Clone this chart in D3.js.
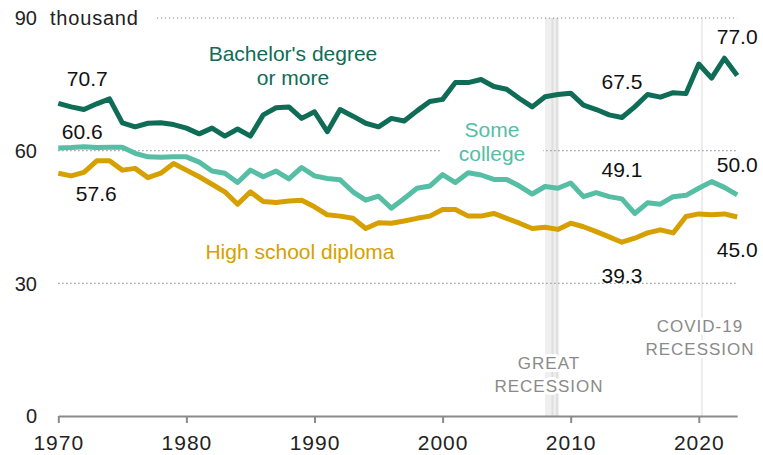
<!DOCTYPE html>
<html><head><meta charset="utf-8">
<script src="https://cdn.jsdelivr.net/npm/d3@7"></script>
<style>html,body{margin:0;padding:0;background:#fff;}svg{display:block;}</style>
</head><body>
<svg id="chart" width="763" height="455"></svg>
<script>
const years = d3.range(1970, 2024);
const bachelors = [70.7,69.9,69.3,70.6,71.7,66.3,65.4,66.2,66.3,65.9,65.1,63.8,65.1,63.3,64.9,63.3,68.1,69.7,69.9,67.3,68.8,64.3,69.3,67.8,66.2,65.4,67.3,66.7,69.0,71.1,71.6,75.4,75.4,76.1,74.5,73.9,71.8,69.9,72.2,72.7,73.0,70.3,69.3,68.1,67.5,69.9,72.7,72.1,73.1,72.9,79.6,76.4,80.9,77.0];
const someCollege = [60.6,60.7,60.9,60.7,60.8,60.8,59.4,58.6,58.5,58.6,58.6,57.4,55.4,54.9,52.8,55.6,54.1,55.4,53.6,56.2,54.3,53.7,53.4,50.7,48.8,49.7,47.0,49.2,51.5,52.0,54.6,52.8,55.0,54.5,53.5,53.5,52.0,50.2,51.9,51.5,52.7,49.6,50.5,49.6,49.1,45.8,48.2,47.9,49.6,49.9,51.5,53.0,51.7,50.0];
const highSchool = [54.9,54.3,55.1,57.7,57.7,55.6,56.0,53.9,54.9,57.1,55.6,54.1,52.4,50.7,47.9,50.7,48.5,48.3,48.6,48.8,47.3,45.5,45.2,44.7,42.4,43.7,43.6,44.1,44.7,45.2,46.7,46.7,45.2,45.2,45.8,44.7,43.6,42.4,42.7,42.2,43.6,42.8,41.7,40.5,39.3,40.2,41.4,42.1,41.4,45.1,45.7,45.5,45.7,45.0];
const yTicks = [0, 30, 60, 90];
const xTicks = [1970, 1980, 1990, 2000, 2010, 2020];
const seriesNames = ["Bachelor's degree|or more", "Some|college", "High school diploma"];
const valueLabels = [
  {s:0, year:1970, text:"70.7"}, {s:1, year:1970, text:"60.6"}, {s:2, year:1970, text:"57.6"},
  {s:0, year:2014, text:"67.5"}, {s:1, year:2014, text:"49.1"}, {s:2, year:2014, text:"39.3"},
  {s:0, year:2023, text:"77.0"}, {s:1, year:2023, text:"50.0"}, {s:2, year:2023, text:"45.0"}
];
const recessions = [{from:2008.0, to:2009.1, label:["GREAT","RECESSION"]}, {from:2020.17, to:2020.33, label:["COVID-19","RECESSION"]}];

const colors = ["#0f6c56", "#55bea4", "#d6a000"];
const series = [bachelors, someCollege, highSchool];

const svg = d3.select("#chart");
const x = d3.scaleLinear().domain([1970, 2023]).range([58.3, 737.2]);
const y = d3.scaleLinear().domain([0, 90]).range([416, 18]);
const font = "'Liberation Sans', Arial, sans-serif";

// recession bands
const rg = svg.append("g");
recessions.forEach((r, i) => {
  rg.append("rect").attr("x", x(r.from)).attr("width", x(r.to) - x(r.from))
    .attr("y", y(90)).attr("height", y(0) - y(90)).attr("fill", i === 0 ? "#efefef" : "#ededed");
  if (i === 0) {
    [0.45, 0.77].forEach(f => {
      rg.append("rect").attr("x", x(r.from + (r.to - r.from) * f)).attr("width", 2)
        .attr("y", y(90)).attr("height", y(0) - y(90)).attr("fill", "#dfdfdf");
    });
  }
});

// gridlines
svg.append("g").selectAll("line").data(yTicks.filter(d => d > 0)).join("line")
  .attr("x1", d => d === 90 ? 157 : x(1970)).attr("x2", x(2023))
  .attr("y1", d => y(d)).attr("y2", d => y(d))
  .attr("stroke", "#8a8a8a").attr("stroke-width", 1.2).attr("stroke-dasharray", "1.2,2.8");

// white backing for "Some college" label
svg.append("rect").attr("x", 440).attr("y", 118).attr("width", 103).attr("height", 48).attr("fill", "#fff");

// y tick labels
svg.append("g").selectAll("text").data(yTicks).join("text")
  .attr("x", 37).attr("y", d => y(d)).attr("dy", "0.36em").attr("text-anchor", "end")
  .attr("font-family", font).attr("font-size", 20).attr("fill", "#222").text(d => d);
svg.append("text").attr("x", 50).attr("y", y(90)).attr("dy", "0.36em")
  .attr("font-family", font).attr("font-size", 20).attr("letter-spacing", "0.8px").attr("fill", "#222").text("thousand");

// recession labels
recessions.forEach((r, i) => {
  const cx = i === 0 ? 549 : 700;
  const y0 = i === 0 ? 369 : 332;
  r.label.forEach((t, j) => {
    svg.append("text").attr("x", cx).attr("y", y0 + j * 23).attr("text-anchor", "middle")
      .attr("font-family", font).attr("font-size", 17).attr("letter-spacing", "1px")
      .attr("fill", "#8a8a8a").attr("stroke", "#fff").attr("stroke-width", 6)
      .attr("paint-order", "stroke").attr("stroke-linejoin", "round").text(t);
  });
});

// x axis
const axis = svg.append("g").attr("transform", `translate(0,${y(0)})`)
  .call(d3.axisBottom(x).tickValues(xTicks).tickFormat(d3.format("d")).tickSize(7).tickSizeOuter(0).tickPadding(12));
axis.select(".domain").attr("stroke", "#8a8a8a").attr("stroke-width", 2);
axis.selectAll(".tick line").attr("stroke", "#8a8a8a").attr("stroke-width", 2);
axis.selectAll(".tick text").attr("font-family", font).attr("font-size", 21).attr("letter-spacing", "1px").attr("fill", "#222");

// lines
const line = d3.line().x((d, i) => x(years[i])).y(d => y(d));
svg.append("g").selectAll("path").data(series).join("path")
  .attr("d", d => line(d)).attr("fill", "none")
  .attr("stroke", (d, i) => colors[i]).attr("stroke-width", 5)
  .attr("stroke-linejoin", "round").attr("stroke-linecap", "butt");

// series labels
const seriesPos = [{cx:293, by:61}, {cx:492, by:137}, {cx:300, by:259}];
seriesNames.forEach((n, i) => {
  n.split("|").forEach((t, j) => {
    svg.append("text").attr("x", seriesPos[i].cx).attr("y", seriesPos[i].by + j * 24)
      .attr("text-anchor", "middle").attr("font-family", font).attr("font-size", 21)
      .attr("fill", colors[i]).text(t);
  });
});

// value labels
const labelOffset = {"1970":[-25, -17, 20], "2014":[-36, -29, 33], "2023":[-39, -30, 32]};
const labelDx = {"1970":[29, 24, 38], "2014":[0,0,0], "2023":[0,0,0]};
valueLabels.forEach(l => {
  const v = series[l.s][years.indexOf(l.year)];
  svg.append("text").attr("x", x(l.year) + labelDx[l.year][l.s])
    .attr("y", y(v) + labelOffset[l.year][l.s]).attr("dy", "0.36em")
    .attr("text-anchor", "middle").attr("font-family", font).attr("font-size", 21)
    .attr("fill", "#111").text(l.text);
});
</script>
</body></html>
